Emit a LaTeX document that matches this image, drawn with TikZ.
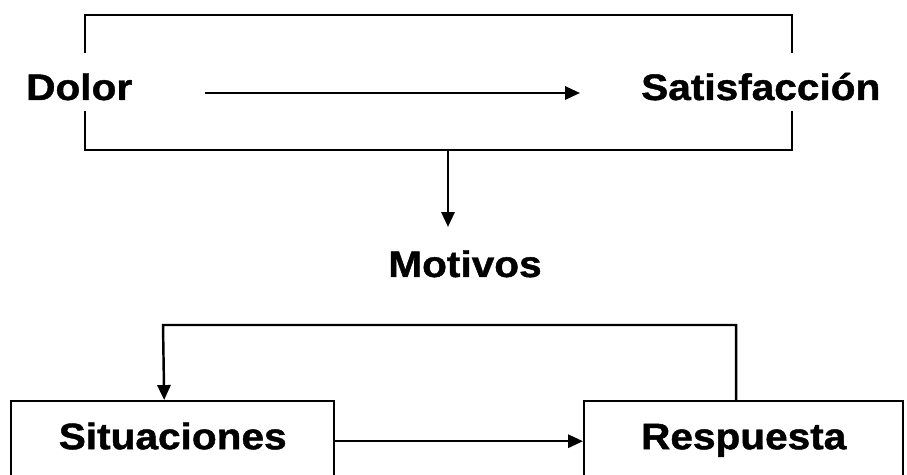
\documentclass[tikz,border=0pt]{standalone}
\usepackage{fontspec}
\newfontfamily\labfont{Liberation Sans}[FakeStretch=1.1,BoldFeatures={FakeBold=1.2}]
\usetikzlibrary{arrows.meta}
\begin{document}
\begin{tikzpicture}
    [
    x=0.02cm, y=-0.02cm,
    line width=1.4pt,
    txt/.style={font=\labfont\bfseries\fontsize{21}{25}\selectfont,inner xsep=0.04cm,inner ysep=0pt},
    cut/.style={txt,fill=white,text height=0.94cm,text depth=0.22cm},
    box/.style={txt,draw,anchor=north west,text height=0.96cm,text depth=0.64cm},
    arr/.style={-{Triangle[length=8.5pt,width=7.5pt]}}
    ]
    \useasboundingbox (0,0) rectangle (907,475);
    \clip (0,0) rectangle (907,475);
    \node (frame) at (438.5,82.5) [draw,minimum width=14.14cm,minimum height=2.7cm] {};
    \node (dolor) at (23,100) [cut,anchor=base west] {Dolor};
    \node (satis) at (638,100) [cut,anchor=base west] {Satisfacción};
    \node (motivos) at (465,277) [txt,anchor=base] {Motivos};
    \coordinate (mtip) at (448,227);
    \node (sit) at (10,400) [box,minimum width=6.46cm] {Situaciones};
    \node (resp) at (583,400) [box,minimum width=6.38cm] {Respuesta};
    \coordinate (fb) at (163,325);
    \draw [arr,shorten <=1.4cm,shorten >=1.16cm] ([yshift=-0.22cm]dolor.east) to ([yshift=-0.22cm]satis.west);
    \draw [arr] (frame.south -| mtip) to (mtip);
    \draw [arr] (sit.east) to (resp.west);
    \draw [arr] ([xshift=-0.15cm]resp.north) |- (fb) -- ([xshift=-0.17cm]sit.north);
  \end{tikzpicture}
\end{document}
